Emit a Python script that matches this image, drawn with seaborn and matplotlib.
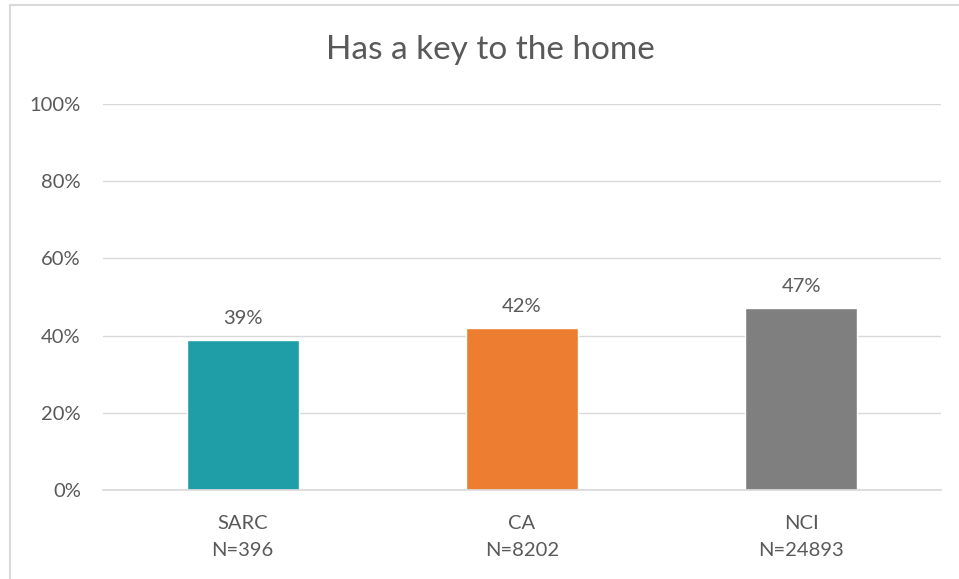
import matplotlib
matplotlib.use("Agg")
import matplotlib.pyplot as plt
import seaborn as sns
import pandas as pd
from matplotlib.patches import Rectangle
from matplotlib.ticker import PercentFormatter

# --- data ---
groups = ["SARC\nN=396", "CA\nN=8202", "NCI\nN=24893"]
values = [38.9, 42.0, 47.2]
labels = ["39%", "42%", "47%"]
colors = ["#1F9EA8", "#ED7D31", "#7F7F7F"]

sns.set_theme(style="white")
plt.rcParams["font.family"] = ["Lato", "DejaVu Sans"]
text_color = "#595959"

df = pd.DataFrame({"group": groups, "value": values})

fig = plt.figure(figsize=(9.59, 5.79), dpi=100)
ax = fig.add_axes([103 / 959, 1 - 490 / 579, (941 - 103) / 959, (490 - 104) / 579])

sns.barplot(data=df, x="group", y="value", hue="group", palette=colors,
            width=0.4, legend=False, ax=ax, saturation=1)

for i, (v, lab) in enumerate(zip(values, labels)):
    ax.text(i, v + 3.3, lab, ha="center", va="bottom", fontsize=14.5, color=text_color)

ax.set_ylim(0, 100)
ax.set_yticks(range(0, 101, 20))
ax.yaxis.set_major_formatter(PercentFormatter(decimals=0))
ax.grid(axis="y", color="#D9D9D9", linewidth=1)
ax.set_axisbelow(True)
for s in ["top", "right", "left"]:
    ax.spines[s].set_visible(False)
ax.spines["bottom"].set_color("#D9D9D9")
ax.tick_params(axis="both", length=0, labelsize=14.5, labelcolor=text_color)
ax.tick_params(axis="y", pad=16)
ax.tick_params(axis="x", pad=18)
for t in ax.get_xticklabels():
    t.set_linespacing(1.75)
ax.set_xlabel("")
ax.set_ylabel("")

fig.text(490 / 959, 1 - 50 / 579, "Has a key to the home", ha="center", va="center",
         fontsize=24, color=text_color)

# chart border
fig.patches.append(Rectangle((10 / 959, -0.1), 1.2, 1 - 5 / 579 + 0.1,
                             transform=fig.transFigure, fill=False,
                             edgecolor="#D9D9D9", linewidth=1.5))

fig.savefig("out.png", dpi=100)
